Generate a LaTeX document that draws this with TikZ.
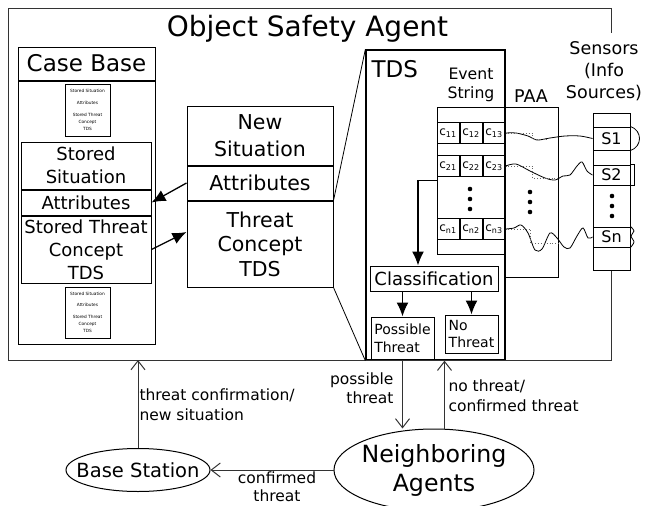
\documentclass[tikz,border=0pt]{standalone}
\usepackage{fontspec}
\setmainfont{DejaVu Sans}
\usetikzlibrary{shapes, arrows.meta, positioning}

\begin{document}
\begin{tikzpicture}[x=1pt, y=-1pt, node distance=0pt, line width=1pt]

    % Define styles for the different parts
    \tikzstyle{box} = [draw, rectangle, inner sep=0pt, align=center]
    \tikzstyle{cell} = [draw, rectangle, inner sep=0pt, minimum width=22pt, minimum height=21pt, font=\fontsize{12}{12}\selectfont]
    \tikzstyle{station} = [draw, ellipse, inner sep=0pt]
    \tikzstyle{txt} = [inner sep=0pt, align=center]
    \tikzstyle{lbl} = [inner sep=0pt, font=\fontsize{15.5}{19.5}\selectfont]
    \tikzstyle{flow} = [-{Latex[length=14pt, width=12pt]}, line width=1.3pt]
    \tikzstyle{msg} = [-{Straight Barb[length=9pt, width=14pt]}, black!80, line width=1pt]
    \tikzstyle{signal} = [line width=0.8pt]
    \tikzstyle{approx} = [dotted, black!60, line width=0.9pt]

    \useasboundingbox (0,0) rectangle (651,506);

    \node (title) [txt, anchor=base, font=\fontsize{28}{28}\selectfont] at (307.5,36) {Object Safety Agent};

    % case base
    \node (cbhead) [box, minimum width=137pt, minimum height=33pt, font=\fontsize{23}{23}\selectfont] at (86.5,63.5) {Case Base};
    \node (cbbody) [box, minimum width=137pt, minimum height=263pt, below=of cbhead] {};
    \node (cbmini1) [box, minimum width=45pt, minimum height=52pt, line width=0.7pt, font=\fontsize{4.3}{7}\selectfont] at (87.5,110) {Stored Situation\\[4.5pt]Attributes\\[5pt]Stored Threat\\Concept\\TDS};
    \node (cbsit) [box, minimum width=130pt, minimum height=47pt, font=\fontsize{18}{23}\selectfont] at (86,165.5) {Stored\\Situation};
    \node (cbattr) [box, minimum width=130pt, minimum height=25pt, font=\fontsize{18}{23}\selectfont, below=of cbsit] {Attributes};
    \node (cbthreat) [box, minimum width=130pt, minimum height=67pt, font=\fontsize{18}{23}\selectfont, below=of cbattr] {Stored Threat\\Concept\\TDS};
    \node (cbmini2) [box, minimum width=45pt, minimum height=51pt, line width=0.7pt, font=\fontsize{4.3}{7}\selectfont] at (87.5,312.5) {Stored Situation\\[4.5pt]Attributes\\[5pt]Stored Threat\\Concept\\TDS};

    % new situation
    \node (newsit) [box, minimum width=146pt, minimum height=59pt, font=\fontsize{20.5}{27}\selectfont] at (260,135.5) {New\\Situation};
    \node (newattr) [box, minimum width=146pt, minimum height=34pt, font=\fontsize{20.5}{27}\selectfont, below=of newsit] {Attributes};
    \node (newthreat) [box, minimum width=146pt, minimum height=86pt, font=\fontsize{20.5}{24.5}\selectfont, below=of newattr] {Threat\\Concept\\TDS};

    % TDS
    \node (tds) [box, minimum width=139pt, minimum height=310pt, line width=1.3pt] at (435.5,205) {};
    \node (tdslabel) [txt, anchor=base west, font=\fontsize{23}{23}\selectfont] at (371,77) {TDS};
    \node (evlabel) [txt, font=\fontsize{15.7}{19}\selectfont] at (471,85) {Event\\String};
    \node (paa) [box, minimum width=54pt, minimum height=170pt] at (531,192) {};
    \node (evstr) [box, minimum width=67pt, minimum height=147pt] at (470.5,180.5) {};
    \node (paalabel) [txt, anchor=base, font=\fontsize{17.5}{17.5}\selectfont] at (531,102) {PAA};

    \node (c11) [cell] at (448,133) {c\textsubscript{11}};
    \node (c12) [cell, right=of c11] {c\textsubscript{12}};
    \node (c13) [cell, right=of c12] {c\textsubscript{13}};
    \node (c21) [cell] at (448,166) {c\textsubscript{21}};
    \node (c22) [cell, right=of c21] {c\textsubscript{22}};
    \node (c23) [cell, right=of c22] {c\textsubscript{23}};
    \node (cn1) [cell] at (448,229) {c\textsubscript{n1}};
    \node (cn2) [cell, right=of cn1] {c\textsubscript{n2}};
    \node (cn3) [cell, right=of cn2] {c\textsubscript{n3}};

    % sensors
    \node (senslabel) [txt, font=\fontsize{17.5}{22}\selectfont] at (604,71) {Sensors\\(Info\\Sources)};
    \node (sensors) [box, minimum width=37pt, minimum height=157pt] at (611.5,191.5) {};
    \node (s1) [box, minimum width=37pt, minimum height=23pt, font=\fontsize{16}{16}\selectfont] at (611.5,138.5) {S1};
    \node (s2) [box, minimum width=37pt, minimum height=20pt, font=\fontsize{16}{16}\selectfont] at (611.5,175) {S2};
    \node (sn) [box, minimum width=37pt, minimum height=20pt, font=\fontsize{16}{16}\selectfont] at (611.5,237) {Sn};

    \foreach \y in {189,199,209} {
        \fill (470,\y) circle [radius=2.3pt];
        \fill (530,\y+3) circle [radius=2.3pt];
        \fill (612,\y+7) circle [radius=2.3pt];
    }

    % classification
    \node (classif) [box, minimum width=128pt, minimum height=25pt, font=\fontsize{18}{18}\selectfont] at (434,278.5) {Classification};
    \node (possthreat) [box, minimum width=63pt, minimum height=43pt, align=left, font=\fontsize{14}{18}\selectfont] at (402.5,338.5) {Possible\\Threat};
    \node (nothreat) [box, minimum width=53pt, minimum height=38pt, align=left, font=\fontsize{14}{17}\selectfont] at (471.5,334) {No\\Threat};

    % outside the agent
    \node (base) [station, minimum width=144pt, minimum height=43pt] at (138,470) {};
    \node (basetxt) [txt, font=\fontsize{19.5}{19.5}\selectfont] at (base) {Base Station};
    \node (nb) [station, minimum width=200pt, minimum height=82pt] at (434,470) {};
    \node (nbtxt) [txt, font=\fontsize{23.7}{29}\selectfont] at (nb) {Neighboring\\Agents};

    \coordinate (agenttl) at (8,8);
    \coordinate (agentbl) at (8,360);
    \path (sensors |- senslabel.north) ++(0,-8) coordinate (sensortop);
    \draw[black!80] (sensortop) |- (agenttl) -- (agentbl) -| (sensors.south);

    % zoom into the TDS
    \draw[signal] (newattr.south east) -- (tds.north west);
    \draw[signal] (newthreat.south east) -- (tds.south west);

    \draw[flow] (newattr.west) -- (cbattr.east);
    \draw[flow] (cbthreat.east) -- ([yshift=12pt]newthreat.west);
    \draw[flow] (evstr.west) -| ([xshift=-16pt]classif.north);
    \draw[flow] (classif.south -| possthreat.north) -- (possthreat.north);
    \draw[flow] (classif.south -| nothreat.north) -- (nothreat.north);

    % signals and their approximation
    \draw[signal] plot[smooth] coordinates {(c13.east) (516,133) (528,136) (537,140) (550,138) (565,136) (580,136) (s1.west)};
    \draw[signal] plot[smooth] coordinates {(c23.east) (516,164) (530,171) (545,178) (555,180) (563,176) (570,175) (577,166) (582,162) (587,171) (s2.west)};
    \draw[signal] plot[smooth] coordinates {(cn3.east) (514,228) (521,225) (528,233) (535,250) (542,249) (550,233) (557,238) (564,247) (570,248) (577,236) (583,228) (588,238) (sn.west)};
    \draw[approx] (c13.east) -- ++(27,0) -- ++(0,6) -- ++(15,0);
    \draw[approx] (c23.east) -- ++(27,0) -- ++(0,12) -- ++(27,0);
    \draw[approx] (cn3.east) -- ++(25,0) -- ++(0,14) -- ++(29,0);
    \draw[signal] (s1.north east) .. controls +(12,4) and +(12,-4) .. (s1.south east);
    \draw[signal] (s2.north east) rectangle ([xshift=4pt]s2.south east);
    \draw[signal] plot[smooth] coordinates {(sn.north east) (634,231) (631,236) (634,242) (sn.south east)};

    % messages
    \draw[msg] (base.north) -- (base.north |- agentbl);
    \draw[msg] (possthreat.south) -- (nb.north -| possthreat.south);
    \draw[msg] (nb.north -| nothreat.west) -- (tds.south -| nothreat.west);
    \draw[msg] (nb.west) -- (base.east);

    \node (lblconf) [lbl, anchor=west, align=left] at (139,404.5) {threat confirmation/\\new situation};
    \node (lblposs) [lbl, anchor=east, align=right, font=\fontsize{15.5}{19}\selectfont] at (394,388.6) {possible\\threat};
    \node (lblno) [lbl, anchor=west, align=left, font=\fontsize{15.5}{20}\selectfont] at (448,395.8) {no threat/\\confirmed threat};
    \node (lblconfirmed) [lbl, align=center, font=\fontsize{15.5}{18.5}\selectfont] at (277,486.5) {confirmed\\threat};

\end{tikzpicture}
\end{document}
